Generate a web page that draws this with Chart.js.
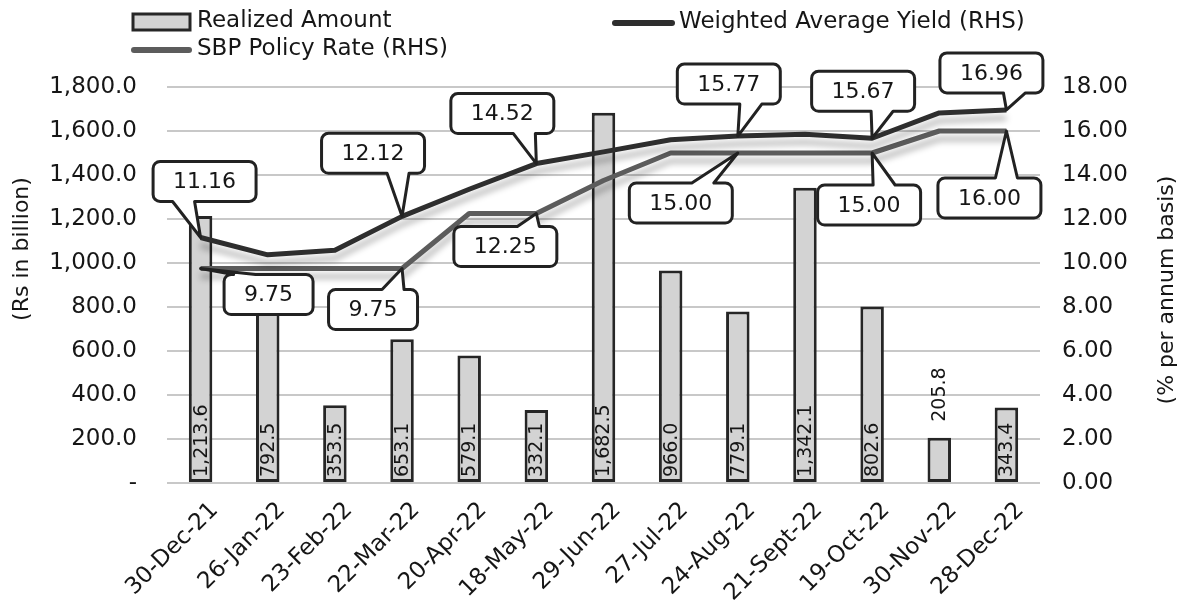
<!DOCTYPE html>
<html>
<head>
<meta charset="utf-8">
<title>T-Bill auctions: realized amount and yields</title>
<script src="https://cdn.jsdelivr.net/npm/chart.js@4.4.1/dist/chart.umd.min.js"></script>
<style>
  html, body { margin: 0; padding: 0; background: #ffffff; }
  #wrap { width: 1189px; height: 603px; position: relative; }
</style>
</head>
<body>
<div id="wrap"><canvas id="chart" width="1189" height="603"></canvas></div>
<script>
// Auction dates
const auctionDates = ['30-Dec-21', '26-Jan-22', '23-Feb-22', '22-Mar-22', '20-Apr-22', '18-May-22',
  '29-Jun-22', '27-Jul-22', '24-Aug-22', '21-Sept-22', '19-Oct-22', '30-Nov-22', '28-Dec-22'];

// Realized amount (Rs in billion)
const realizedAmount = [1213.6, 792.5, 353.5, 653.1, 579.1, 332.1, 1682.5, 966.0, 779.1, 1342.1, 802.6, 205.8, 343.4];

// Weighted average yield (% p.a.)
const weightedYield = [11.16, 10.37, 10.58, 12.12, 13.35, 14.52, 15.05, 15.60, 15.77, 15.85, 15.67, 16.82, 16.96];

// SBP policy rate (% p.a.)
const policyRate = [9.75, 9.75, 9.75, 9.75, 12.25, 12.25, 13.75, 15.00, 15.00, 15.00, 15.00, 16.00, 16.00];

// Left axis ticks (Rs in billion) and right axis ticks (%)
const amountTicks = [0, 200, 400, 600, 800, 1000, 1200, 1400, 1600, 1800];
const rateTicks = [0, 2, 4, 6, 8, 10, 12, 14, 16, 18];

// Which points carry a value callout, and where the callout box sits relative to its point
const yieldCalloutIdx = [0, 3, 5, 8, 10, 12];
const policyCalloutIdx = [0, 3, 5, 8, 10, 12];
const yieldCalloutPlace = [
  { dx: 4, dy: -56, tail: -21 }, { dx: -29, dy: -63, tail: 25 }, { dx: -34, dy: -50, tail: 22 },
  { dx: -9, dy: -52, tail: 22 }, { dx: -9, dy: -47, tail: 19 }, { dx: -15, dy: -37, tail: 23 }
];
const policyCalloutPlace = [
  { dx: 68, dy: 26, tail: -24 }, { dx: -29, dy: 41, tail: 20 }, { dx: -31, dy: 33, tail: 23 },
  { dx: -57, dy: 50, tail: 22 }, { dx: -3, dy: 52, tail: 15 }, { dx: -17, dy: 67, tail: 17 }
];

const FONT = '"DejaVu Sans", "Noto Sans", sans-serif';
const INK = '#161616';
const CHART_LEFT = 167, CHART_RIGHT = 1040, CHART_BOTTOM = 483, CHART_TOP = 87;

const fmtAmount = v => v.toLocaleString('en-US', { minimumFractionDigits: 1, maximumFractionDigits: 1 });

// Speech-bubble outline: rounded box with a wedge pointing at (tx, ty)
function calloutPath(ctx, x0, y0, w, h, r, side, b0, b1, tx, ty) {
  const x1 = x0 + w, y1 = y0 + h;
  ctx.beginPath();
  ctx.moveTo(x0 + r, y0);
  if (side === 'top') { ctx.lineTo(b0, y0); ctx.lineTo(tx, ty); ctx.lineTo(b1, y0); }
  ctx.lineTo(x1 - r, y0);
  ctx.arcTo(x1, y0, x1, y0 + r, r);
  ctx.lineTo(x1, y1 - r);
  ctx.arcTo(x1, y1, x1 - r, y1, r);
  if (side === 'bottom') { ctx.lineTo(b1, y1); ctx.lineTo(tx, ty); ctx.lineTo(b0, y1); }
  ctx.lineTo(x0 + r, y1);
  ctx.arcTo(x0, y1, x0, y1 - r, r);
  ctx.lineTo(x0, y0 + r);
  ctx.arcTo(x0, y0, x0 + r, y0, r);
  ctx.closePath();
}

function drawCallout(ctx, pt, text, place) {
  ctx.save();
  ctx.font = '22px ' + FONT;
  const tw = ctx.measureText(text).width;
  const w = tw + 40, h = 40, r = 7;
  const cx = pt.x + place.dx, cy = pt.y + place.dy;
  const x0 = cx - w / 2, y0 = cy - h / 2;
  const side = place.dy < 0 ? 'bottom' : 'top';
  let bc = cx + place.tail;
  bc = Math.max(x0 + r + 11, Math.min(x0 + w - r - 11, bc));
  calloutPath(ctx, x0, y0, w, h, r, side, bc - 11, bc + 11, pt.x, pt.y);
  ctx.fillStyle = '#ffffff';
  ctx.fill();
  ctx.lineWidth = 3;
  ctx.lineJoin = 'round';
  ctx.strokeStyle = '#222222';
  ctx.stroke();
  ctx.fillStyle = INK;
  ctx.textAlign = 'center';
  ctx.textBaseline = 'middle';
  ctx.fillText(text, cx, cy + 1);
  ctx.restore();
}

// Soft grey drop shadow under the two rate lines
const lineShadow = {
  id: 'lineShadow',
  beforeDatasetDraw(chart, args) {
    if (chart.data.datasets[args.index].type !== 'line') return;
    const ctx = chart.ctx;
    ctx.save();
    ctx.shadowColor = 'rgba(0,0,0,0.28)';
    ctx.shadowBlur = 6;
    ctx.shadowOffsetY = 8;
  },
  afterDatasetDraw(chart, args) {
    if (chart.data.datasets[args.index].type !== 'line') return;
    chart.ctx.restore();
  }
};

// Vertical value labels on the bars (above the bar when it is too short)
const barLabels = {
  id: 'barLabels',
  afterDatasetDraw(chart, args) {
    if (args.index !== 0) return;
    const ctx = chart.ctx;
    const meta = chart.getDatasetMeta(0);
    ctx.save();
    ctx.font = '19px ' + FONT;
    ctx.fillStyle = INK;
    ctx.textAlign = 'left';
    ctx.textBaseline = 'middle';
    meta.data.forEach((bar, i) => {
      const text = fmtAmount(realizedAmount[i]);
      const tw = ctx.measureText(text).width;
      const inside = tw + 12 < bar.base - bar.y;
      const startY = inside ? bar.base - 5 : bar.y - 16;
      ctx.save();
      ctx.translate(bar.x, startY);
      ctx.rotate(-Math.PI / 2);
      ctx.fillText(text, 0, 1);
      ctx.restore();
    });
    ctx.restore();
  }
};

// Callouts, axis titles and legend
const overlay = {
  id: 'overlay',
  afterDraw(chart) {
    const ctx = chart.ctx;
    const yMeta = chart.getDatasetMeta(2);
    const pMeta = chart.getDatasetMeta(1);
    policyCalloutIdx.forEach((i, k) => drawCallout(ctx, pMeta.data[i], policyRate[i].toFixed(2), policyCalloutPlace[k]));
    yieldCalloutIdx.forEach((i, k) => drawCallout(ctx, yMeta.data[i], weightedYield[i].toFixed(2), yieldCalloutPlace[k]));

    // axis titles, both reading bottom-to-top
    ctx.save();
    ctx.font = '22px ' + FONT;
    ctx.fillStyle = INK;
    ctx.textAlign = 'center';
    ctx.textBaseline = 'middle';
    [[22, 249, '(Rs in billion)'], [1167, 290, '(% per annum basis)']].forEach(([x, y, t]) => {
      ctx.save();
      ctx.translate(x, y);
      ctx.rotate(-Math.PI / 2);
      ctx.fillText(t, 0, 0);
      ctx.restore();
    });
    ctx.restore();

    // legend
    const ds = chart.data.datasets;
    ctx.save();
    ctx.font = '23px ' + FONT;
    ctx.fillStyle = INK;
    ctx.textAlign = 'left';
    ctx.textBaseline = 'middle';
    // bar swatch
    ctx.fillStyle = ds[0].backgroundColor;
    ctx.fillRect(133, 14, 57, 16);
    ctx.lineWidth = 3;
    ctx.strokeStyle = ds[0].borderColor;
    ctx.strokeRect(133, 14, 57, 16);
    ctx.fillStyle = INK;
    ctx.fillText(ds[0].label, 197, 21);
    // line swatches
    ctx.lineCap = 'round';
    ctx.lineWidth = 6;
    ctx.strokeStyle = ds[1].borderColor;
    ctx.beginPath(); ctx.moveTo(134, 50); ctx.lineTo(189, 50); ctx.stroke();
    ctx.fillText(ds[1].label, 197, 49);
    ctx.strokeStyle = ds[2].borderColor;
    ctx.beginPath(); ctx.moveTo(615, 23); ctx.lineTo(672, 23); ctx.stroke();
    ctx.fillText(ds[2].label, 679, 22);
    ctx.restore();
  }
};

new Chart(document.getElementById('chart'), {
  type: 'bar',
  data: {
    labels: auctionDates,
    datasets: [
      {
        type: 'bar',
        label: 'Realized Amount',
        data: realizedAmount,
        yAxisID: 'y',
        backgroundColor: '#d3d3d3',
        borderColor: '#262626',
        borderWidth: 3,
        borderSkipped: false,
        categoryPercentage: 1,
        barPercentage: 0.35,
        order: 3
      },
      {
        type: 'line',
        label: 'SBP Policy Rate (RHS)',
        data: policyRate,
        yAxisID: 'y1',
        borderColor: '#5c5c5c',
        borderWidth: 5,
        pointRadius: 0,
        tension: 0,
        borderJoinStyle: 'round',
        order: 2
      },
      {
        type: 'line',
        label: 'Weighted Average Yield (RHS)',
        data: weightedYield,
        yAxisID: 'y1',
        borderColor: '#2e2e2e',
        borderWidth: 5,
        pointRadius: 0,
        tension: 0,
        borderJoinStyle: 'round',
        order: 1
      }
    ]
  },
  options: {
    responsive: false,
    animation: false,
    devicePixelRatio: 1,
    layout: { padding: { top: CHART_TOP, left: 0, right: 0, bottom: 0 } },
    plugins: { legend: { display: false }, tooltip: { enabled: false }, title: { display: false } },
    scales: {
      x: {
        offset: true,
        grid: { display: false },
        border: { display: false },
        ticks: {
          autoSkip: false, minRotation: 45, maxRotation: 45,
          padding: 6, labelOffset: 14,
          color: INK, font: { family: FONT, size: 23 }
        },
        afterFit(scale) { scale.height = 603 - CHART_BOTTOM; }
      },
      y: {
        position: 'left',
        min: 0, max: 1800,
        afterBuildTicks(scale) { scale.ticks = amountTicks.map(v => ({ value: v })); },
        grid: { color: '#c8c8c8', lineWidth: 2, drawTicks: false },
        border: { display: false },
        ticks: {
          padding: 30, color: INK, font: { family: FONT, size: 23 },
          callback: v => (v === 0 ? '-' : fmtAmount(v))
        },
        afterFit(scale) { scale.width = CHART_LEFT; }
      },
      y1: {
        position: 'right',
        min: 0, max: 18,
        afterBuildTicks(scale) { scale.ticks = rateTicks.map(v => ({ value: v })); },
        grid: { display: false, drawTicks: false },
        border: { display: false },
        ticks: {
          padding: 22, color: INK, font: { family: FONT, size: 23 },
          callback: v => v.toFixed(2)
        },
        afterFit(scale) { scale.width = 1189 - CHART_RIGHT; }
      }
    }
  },
  plugins: [lineShadow, barLabels, overlay]
});
</script>
</body>
</html>
